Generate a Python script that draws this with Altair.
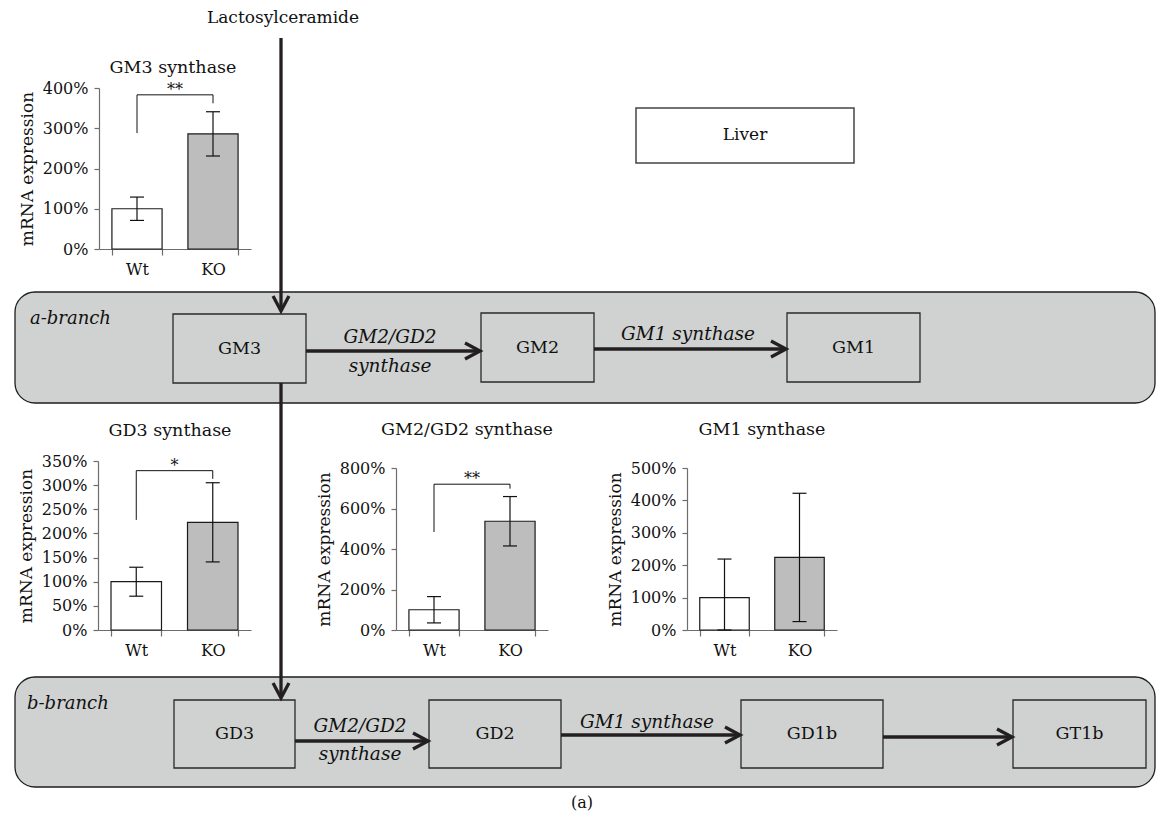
import math
import altair as alt
import pandas as pd

FONT = "DejaVu Serif"
GROUPS = ["Wt", "KO"]

# ---- bar chart values (relative mRNA expression, 1.0 = 100 %) ----
GM3_MEAN = [1.00, 2.86]
GM3_ERR = [0.29, 0.55]
GD3_MEAN = [1.00, 2.23]
GD3_ERR = [0.30, 0.82]
GM2_MEAN = [1.00, 5.37]
GM2_ERR = [0.65, 1.22]
GM1_MEAN = [1.00, 2.24]
GM1_ERR = [1.19, 1.98]

# significance brackets: [Wt end, top, KO end]
GM3_BRACKET = [2.88, 3.83, 3.62]
GD3_BRACKET = [2.28, 3.30, 3.13]
GM2_BRACKET = [4.84, 7.20, 6.98]
GM3_SIG = "**"
GD3_SIG = "*"
GM2_SIG = "**"

GM3_TICKS = [0, 1, 2, 3, 4]
GD3_TICKS = [0, 0.5, 1, 1.5, 2, 2.5, 3, 3.5]
GM2_TICKS = [0, 2, 4, 6, 8]
GM1_TICKS = [0, 1, 2, 3, 4, 5]

PANEL_TITLES = ["GM3 synthase", "GD3 synthase", "GM2/GD2 synthase", "GM1 synthase"]

# ---- diagram text ----
BRANCH_NAMES = ["a-branch", "b-branch"]
NODE_NAMES = ["GM3", "GM2", "GM1", "GD3", "GD2", "GD1b", "GT1b"]
ENZYME_TEXT = ["GM2/GD2", "synthase", "GM1 synthase", "GM2/GD2", "synthase", "GM1 synthase"]

# ---- layout (reference pixel positions) ----
OX, OY = 8, 8
W, H = 1148, 811

BAND_X0 = [15, 15]
BAND_X1 = [1155, 1155]
BAND_Y0 = [292, 677]
BAND_Y1 = [403, 787]

NODE_X0 = [173, 481, 787, 174, 429, 741, 1013]
NODE_X1 = [306, 594, 920, 295, 561, 883, 1146]
NODE_Y0 = [314, 313, 313, 700, 700, 700, 700]
NODE_Y1 = [383, 382, 382, 768, 768, 768, 768]

# arrows: start -> tip
ARROW_X0 = [281, 281, 306, 594, 295, 561, 883]
ARROW_Y0 = [38, 383, 351, 349, 741, 735, 737]
ARROW_XT = [281, 281, 480, 786, 428, 740, 1012]
ARROW_YT = [311, 698, 351, 349, 741, 735, 737]

ENZ_X = [390, 390, 688, 360, 360, 647]
ENZ_Y = [337, 366, 334, 726, 754, 722]

BRANCH_X = [30, 27]
BRANCH_Y = [319, 704]

PLAIN_TEXT = ["Lactosylceramide", "Liver", "(a)"] + PANEL_TITLES
PLAIN_X = [283, 745, 582, 173, 170, 467, 762]
PLAIN_Y = [18, 135, 803, 68, 431, 430, 430]
PLAIN_FS = [17, 17, 16, 17.5, 17.5, 17.5, 17.5]

LIVER_BOX = dict(x0=[636], x1=[854], y0=[108], y1=[163])

INK = "#231f20"
GRAY = "#d0d1d1"


def px(f):
    return alt.X(f"{f}:Q", scale=alt.Scale(domain=[OX, OX + W], nice=False, zero=False), axis=None)


def py(f):
    return alt.Y(f"{f}:Q", scale=alt.Scale(domain=[OY, OY + H], nice=False, zero=False, reverse=True), axis=None)


band_df = pd.DataFrame({"name": BRANCH_NAMES, "x0": BAND_X0, "x1": BAND_X1, "y0": BAND_Y0, "y1": BAND_Y1,
                        "lx": BRANCH_X, "ly": BRANCH_Y})
node_df = pd.DataFrame({"name": NODE_NAMES, "x0": NODE_X0, "x1": NODE_X1, "y0": NODE_Y0, "y1": NODE_Y1})
liver_df = pd.DataFrame(LIVER_BOX)
ang, xe, ye = [], [], []
for a0, b0, a1, b1 in zip(ARROW_X0, ARROW_Y0, ARROW_XT, ARROW_YT):
    ang.append(math.degrees(math.atan2(b1 - b0, a1 - a0)))
    xe.append(a1 - max(-2, min(2, a1 - a0)))
    ye.append(b1 - max(-2, min(2, b1 - b0)))
arrow_df = pd.DataFrame({"ax": ARROW_X0, "ay": ARROW_Y0, "tx": ARROW_XT, "ty": ARROW_YT,
                         "ang": ang, "ex": xe, "ey": ye})
enz_df = pd.DataFrame({"t": ENZYME_TEXT, "x": ENZ_X, "y": ENZ_Y})
plain_df = pd.DataFrame({"t": PLAIN_TEXT, "x": PLAIN_X, "y": PLAIN_Y, "fs": PLAIN_FS})

bands = alt.Chart(band_df).mark_rect(cornerRadius=20, fill=GRAY, stroke="#1e1e1e", strokeWidth=1.3).encode(
    x=px("x0"), x2=alt.X2("x1"), y=py("y0"), y2=alt.Y2("y1"))
band_labels = alt.Chart(band_df).mark_text(font=FONT, fontSize=18, fontStyle="italic", align="left",
                                           color="#111").encode(x=px("lx"), y=py("ly"), text="name:N")
nodes = alt.Chart(node_df).mark_rect(fill=GRAY, stroke="#2a2a2a", strokeWidth=1.3).encode(
    x=px("x0"), x2=alt.X2("x1"), y=py("y0"), y2=alt.Y2("y1"))
node_labels = alt.Chart(node_df).transform_calculate(
    cx="(datum.x0 + datum.x1) / 2", cy="(datum.y0 + datum.y1) / 2"
).mark_text(font=FONT, fontSize=17.5, color="#111").encode(x=px("cx"), y=py("cy"), text="name:N")
liver = alt.Chart(liver_df).mark_rect(fill="white", stroke="#444444", strokeWidth=1.5).encode(
    x=px("x0"), x2=alt.X2("x1"), y=py("y0"), y2=alt.Y2("y1"))
shafts = alt.Chart(arrow_df).mark_rule(color=INK, strokeWidth=3.3).encode(
    x=px("ax"), x2=alt.X2("ex"), y=py("ay"), y2=alt.Y2("ey"))
heads = alt.Chart(arrow_df).mark_point(shape="M-1,-0.53L0,0L-1,0.53", size=900, filled=False, color=INK,
                                       strokeWidth=3.3, opacity=1, strokeJoin="miter").encode(
    x=px("tx"), y=py("ty"), angle=alt.Angle("ang:Q", scale=None))
enz_labels = alt.Chart(enz_df).mark_text(font=FONT, fontSize=18.5, fontStyle="italic", color="#111").encode(
    x=px("x"), y=py("y"), text="t:N")
plain_labels = alt.Chart(plain_df).mark_text(font=FONT, color="#111").encode(
    x=px("x"), y=py("y"), text="t:N", size=alt.Size("fs:Q", scale=None))

diagram = alt.layer(bands, nodes, liver, shafts, heads, band_labels, node_labels, enz_labels, plain_labels)

AXIS_STYLE = dict(grid=False, domainColor="#6d6d6d", domainWidth=1.2, tickColor="#6d6d6d", tickWidth=1.2,
                  labelFont=FONT, labelFontSize=16, labelColor="#111", titleFont=FONT, titleFontSize=17,
                  titleFontWeight="normal", titleColor="#111")


def panel(means, errs, ticks, ymax, ax_x0, ax_x1, ax_y0, ax_ytop, bracket=None, sig=None):
    xsc = alt.Scale(type="band", domain=GROUPS, range=[ax_x0 - OX, ax_x1 - OX], paddingInner=0.34,
                    paddingOuter=0.17)
    ysc = alt.Scale(domain=[0, ymax], range=[ax_y0 - OY, ax_ytop - OY], nice=False, zero=True, clamp=True)
    xaxis = alt.Axis(orient="bottom", offset=(ax_y0 - OY) - H, tickBand="extent", tickSize=6, labelPadding=6,
                     labelAngle=0, title=None, **AXIS_STYLE)
    yaxis = alt.Axis(orient="left", offset=-(ax_x0 - OX), values=ticks, format=".0%", tickSize=5,
                     labelPadding=6, titlePadding=6, title="mRNA expression", labelOverlap=False, **AXIS_STYLE)

    def X():
        return alt.X("g:N", scale=xsc, sort=GROUPS, axis=xaxis)

    def Y(f):
        return alt.Y(f"{f}:Q", scale=ysc, axis=yaxis)

    df = pd.DataFrame({"g": GROUPS, "m": means, "e": errs})
    df["lo"] = df["m"] - df["e"]
    df["hi"] = df["m"] + df["e"]
    caps = pd.DataFrame({"g": GROUPS * 2, "v": list(df["lo"]) + list(df["hi"])})
    bars = alt.Chart(df).mark_bar(stroke="#1a1a1a", strokeWidth=1.2).encode(
        x=X(), y=Y("m"),
        color=alt.Color("g:N", scale=alt.Scale(domain=GROUPS, range=["#ffffff", "#bdbdbd"]), legend=None))
    err = alt.Chart(df).mark_rule(color="#111", strokeWidth=1.2).encode(
        x=X(), y=Y("lo"), y2=alt.Y2("hi"))
    cap = alt.Chart(caps).mark_tick(color="#111", size=14, thickness=1.2, opacity=1).encode(
        x=X(), y=Y("v"))
    layers = [bars, err, cap]
    if bracket is not None:
        bdf = pd.DataFrame({"g": ["Wt", "Wt", "KO", "KO"],
                            "v": [bracket[0], bracket[1], bracket[1], bracket[2]], "o": [0, 1, 2, 3]})
        line = alt.Chart(bdf).mark_line(color="#111", strokeWidth=1).encode(
            x=X(), y=Y("v"), order="o:Q")
        sdf = pd.DataFrame({"g": ["Wt"], "v": [bracket[1]], "t": [sig]})
        star = alt.Chart(sdf).mark_text(font=FONT, fontSize=16, baseline="alphabetic", color="#111",
                                        dx=(ax_x1 - ax_x0) / 4).encode(
            x=X(), y=Y("v"), text="t:N")
        layers += [line, star]
    return alt.layer(*layers)


p1 = panel(GM3_MEAN, GM3_ERR, GM3_TICKS, 4, 99, 251, 249, 88, GM3_BRACKET, GM3_SIG)
p2 = panel(GD3_MEAN, GD3_ERR, GD3_TICKS, 3.5, 98, 251, 630, 461, GD3_BRACKET, GD3_SIG)
p3 = panel(GM2_MEAN, GM2_ERR, GM2_TICKS, 8, 396, 548, 630, 468, GM2_BRACKET, GM2_SIG)
p4 = panel(GM1_MEAN, GM1_ERR, GM1_TICKS, 5, 687, 837, 630, 468)

chart = alt.layer(diagram, p1, p2, p3, p4).resolve_scale(
    x="independent", y="independent", color="independent"
).properties(
    width=W, height=H, padding=0, autosize=alt.AutoSizeParams(type="none")
).configure_view(stroke=None).configure_axis(**AXIS_STYLE)

chart.save("out.html", embed_options={"renderer": "svg", "actions": False})
